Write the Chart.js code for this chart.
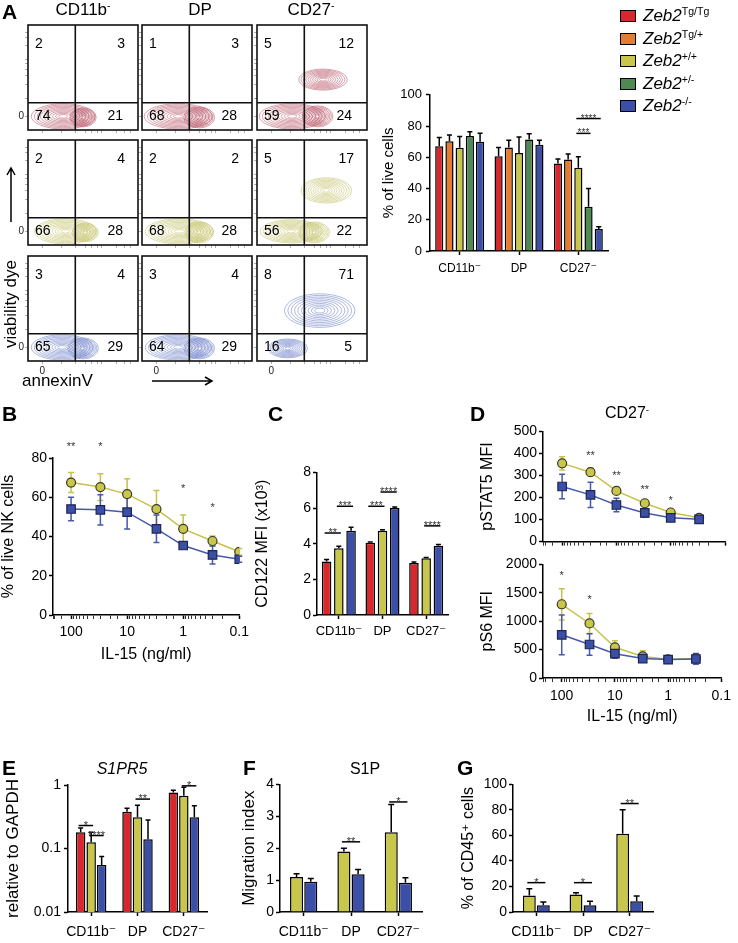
<!DOCTYPE html>
<html>
<head>
<meta charset="utf-8">
<script src="https://cdn.jsdelivr.net/npm/chart.js@4.4.1/dist/chart.umd.min.js"></script>
<style>
  body { margin: 0; width: 738px; height: 943px; position: relative; background: #fff; overflow: hidden;
         font-family: "Liberation Sans", Arial, sans-serif; color: #000; }
  canvas { position: absolute; }
  .t { position: absolute; white-space: nowrap; line-height: 1; }
  .letter { font-weight: bold; font-size: 21px; }
  .ctr { transform: translateX(-50%); }
  sup { font-size: 62%; vertical-align: 0.55em; line-height: 0; }
  .leg { position: absolute; left: 620px; font-size: 17px; font-style: italic; line-height: 1; }
  .leg i { position: absolute; left: 0; top: 3px; width: 14px; height: 10px; border: 1.5px solid #000; }
  .leg span { position: absolute; left: 23px; top: 0; white-space: nowrap; }
</style>
</head>
<body>

<script>
// ---------- data ----------
const subsets = ['CD11b⁻', 'DP', 'CD27⁻'];
const genotypes = ['Tg/Tg', 'Tg/+', '+/+', '+/-', '-/-'];
const genoColors = ['#d8282d', '#e57c30', '#c9c64c', '#4e8a52', '#3c4fa7'];

// A: flow quadrants [upper-left, upper-right, lower-left, lower-right]
const quadTgTg = [[2, 3, 74, 21], [1, 3, 68, 28], [5, 12, 59, 24]];
const quadWt = [[2, 4, 66, 28], [2, 2, 68, 28], [5, 17, 56, 22]];
const quadKo = [[3, 4, 65, 29], [3, 4, 64, 29], [8, 71, 16, 5]];
// contour populations: [annexinV, viability, spread x, spread y] (axis units 0-100)
const popTgTg = [
  [[32, 13, 29, 12], [50, 12, 12, 9]],
  [[33, 13, 31, 12], [52, 12, 14, 10]],
  [[32, 13, 30, 12], [55, 13, 14, 10], [60, 48, 22, 10]]
];
const popWt = [
  [[34, 13, 28, 12], [52, 12, 12, 9]],
  [[34, 13, 31, 12], [52, 12, 13, 10]],
  [[31, 13, 28, 11], [52, 12, 14, 10], [63, 52, 23, 12]]
];
const popKo = [
  [[31, 13, 28, 12], [50, 12, 14, 10]],
  [[33, 13, 30, 12], [52, 12, 14, 10]],
  [[28, 12, 18, 9], [57, 48, 32, 16]]
];

// A: % of live cells, per subset
const liveTgTg = [67, 60.6, 56];
const liveTgHet = [70.3, 66.3, 58.5];
const liveWt = [66.1, 62.7, 53.3];
const liveHet = [73.7, 71.4, 28.4];
const liveKo = [69.9, 68, 14.1];
const liveTgTgSd = [5.6, 5.7, 2.9];
const liveTgHetSd = [4, 4.6, 3.6];
const liveWtSd = [7.2, 10.3, 7.1];
const liveHetSd = [2.7, 3.6, 11.6];
const liveKoSd = [5.5, 2.9, 1.5];

// B: % of live NK cells vs IL-15
const il15B = [100, 30, 10, 3, 1, 0.3, 0.1];
const nkWt = [67.5, 65.2, 61.6, 54, 43.9, 37.7, 32.2];
const nkWtSd = [5.1, 6.8, 7.8, 9.4, 7.1, 2.5, 1.7];
const nkKo = [54, 53.6, 52.4, 43.9, 35.4, 30.6, 28.4];
const nkKoSd = [6, 7.7, 8.6, 7, 1.5, 4.6, 1.5];

// C: CD122 MFI (x10^3)
const cd122TgTg = [3.0, 4.05, 2.92];
const cd122Wt = [3.75, 4.72, 3.18];
const cd122Ko = [4.72, 6.0, 3.88];
const cd122TgTgSd = [0.12, 0.05, 0.05];
const cd122WtSd = [0.1, 0.06, 0.05];
const cd122KoSd = [0.2, 0.06, 0.07];

// D: CD27- signalling vs IL-15
const il15D = [100, 30, 10, 3, 1, 0.3];
const stat5Wt = [355, 315, 230, 174, 132, 108];
const stat5WtSd = [30, 18, 12, 10, 8, 5];
const stat5Ko = [250, 212, 166, 130, 108, 101];
const stat5KoSd = [56, 57, 31, 20, 8, 8];
const s6Wt = [1298, 960, 540, 380, 330, 345];
const s6WtSd = [275, 175, 115, 100, 30, 50];
const s6Ko = [760, 590, 428, 342, 324, 335];
const s6KoSd = [350, 190, 80, 50, 30, 95];

// E: S1PR5 relative to GAPDH
const s1pr5TgTg = [0.18, 0.38, 0.76];
const s1pr5Wt = [0.125, 0.31, 0.68];
const s1pr5Ko = [0.055, 0.14, 0.31];
const s1pr5TgTgSd = [0.03, 0.05, 0.07];
const s1pr5WtSd = [0.055, 0.17, 0.24];
const s1pr5KoSd = [0.02, 0.14, 0.16];

// F: migration index to S1P
const migWt = [1.1, 1.9, 2.5];
const migWtSd = [0.1, 0.1, 0.87];
const migKo = [0.95, 1.18, 0.92];
const migKoSd = [0.1, 0.15, 0.15];

// G: % of CD45+ cells
const cd45Wt = [13, 13.8, 61.4];
const cd45WtSd = [5.3, 1.2, 18.7];
const cd45Ko = [5.2, 5.2, 8.4];
const cd45KoSd = [2.6, 3.2, 4.2];

// ---------- helpers ----------
const FONT = '"Liberation Sans", Arial, "DejaVu Sans", sans-serif';
const RED = genoColors[0], YEL = genoColors[2], BLU = genoColors[4];
const YEL_LINE = '#c6c24a', BLU_LINE = '#4758ad';
const isPow10 = v => v > 0 && Math.abs(Math.log10(v) - Math.round(Math.log10(v))) < 1e-9;
const fmtPow = v => String(Number(v.toPrecision(1)));

function html(s) { document.body.insertAdjacentHTML('beforeend', s); }

function place(box) {
  const c = document.createElement('canvas');
  const left = box.l - box.yW, top = box.t - box.pt;
  const w = box.r + box.pr - left, h = box.b + box.xH - top;
  c.width = w; c.height = h;
  c.style.left = left + 'px'; c.style.top = top + 'px';
  c.style.width = w + 'px'; c.style.height = h + 'px';
  document.body.appendChild(c);
  return c;
}

function baseOptions(box) {
  return {
    animation: false, responsive: false, devicePixelRatio: 1,
    layout: { padding: { top: box.pt, right: box.pr, left: 0, bottom: 0 } },
    plugins: { legend: { display: false }, tooltip: { enabled: false } }
  };
}

function yAxis(box, o) {
  const ax = {
    type: o.type || 'linear', min: o.min, max: o.max,
    border: { color: '#000', width: 1.5 },
    grid: { drawOnChartArea: false, drawTicks: true, tickLength: 4, color: '#000', tickWidth: 1.5 },
    ticks: { font: { size: o.fs, family: FONT }, color: '#000', padding: o.pad, callback: v => String(v) },
    title: { display: !!o.title, text: o.title, color: '#000', font: { size: o.tfs, family: FONT }, padding: 0 },
    afterFit: s => { s.width = box.yW; }
  };
  if (o.step) ax.ticks.stepSize = o.step;
  if (o.type === 'logarithmic') {
    ax.afterBuildTicks = s => { s.ticks = s.ticks.filter(t => isPow10(t.value)); };
    ax.ticks.callback = v => fmtPow(v);
  }
  return ax;
}

function catAxis(box, fs, pad) {
  return {
    type: 'category', offset: true,
    border: { color: '#000', width: 1.5 },
    grid: { offset: false, drawOnChartArea: false, drawTicks: true, tickLength: 4, color: '#000', tickWidth: 1.5 },
    ticks: { font: { size: fs, family: FONT }, color: '#000', padding: pad, maxRotation: 0, autoSkip: false },
    afterFit: s => { s.height = box.xH; }
  };
}

function logXAxis(box, max, showLabels, pad) {
  return {
    type: 'logarithmic', reverse: true, min: 0.1, max: max,
    border: { color: '#000', width: 1.5 },
    grid: { drawOnChartArea: false, drawTicks: true, tickLength: 4, color: '#000',
            tickWidth: c => (c.tick && isPow10(c.tick.value)) ? 1.5 : 0.8 },
    ticks: { font: { size: 14, family: FONT }, color: '#000', padding: pad, autoSkip: false, maxRotation: 0,
             callback: v => (showLabels && isPow10(v)) ? fmtPow(v) : '' },
    title: { display: showLabels, text: 'IL-15 (ng/ml)', color: '#000', font: { size: 16, family: FONT }, padding: 0 },
    afterFit: s => { s.height = box.xH; }
  };
}

// error bars drawn through the y scale
function drawErrors(chart) {
  const ctx = chart.ctx, ys = chart.scales.y;
  chart.data.datasets.forEach((ds, i) => {
    if (!ds.err) return;
    const meta = chart.getDatasetMeta(i);
    ctx.save();
    ctx.strokeStyle = ds.errColor || '#000';
    ctx.lineWidth = 1.5;
    meta.data.forEach((el, j) => {
      const raw = ds.data[j];
      const v = typeof raw === 'object' ? raw.y : raw;
      const e = ds.err[j];
      const x = el.x, cap = ds.cap || 6;
      const yTop = ys.getPixelForValue(v + e);
      const yBot = ds.errBoth ? ys.getPixelForValue(v - e) : el.y;
      ctx.beginPath();
      ctx.moveTo(x, yBot); ctx.lineTo(x, yTop);
      ctx.moveTo(x - cap / 2, yTop); ctx.lineTo(x + cap / 2, yTop);
      if (ds.errBoth) { ctx.moveTo(x - cap / 2, yBot); ctx.lineTo(x + cap / 2, yBot); }
      ctx.stroke();
    });
    ctx.restore();
  });
}
const errorBars = {
  id: 'errorBars',
  beforeDatasetsDraw(chart) { if (chart.config.type === 'line') drawErrors(chart); },
  afterDatasetsDraw(chart) { if (chart.config.type === 'bar') drawErrors(chart); }
};

// significance marks: {a:[cat,ds], b:[cat,ds], y, t} or {x, y, t}
function sigMarks(marks, fs) {
  return {
    id: 'sig',
    afterDatasetsDraw(chart) {
      const ctx = chart.ctx, ys = chart.scales.y, xs = chart.scales.x;
      ctx.save();
      ctx.fillStyle = '#333'; ctx.strokeStyle = '#000'; ctx.lineWidth = 1.5;
      ctx.font = (fs || 11) + 'px ' + FONT;
      ctx.textAlign = 'center'; ctx.textBaseline = 'alphabetic';
      marks.forEach(m => {
        const y = ys.getPixelForValue(m.y);
        if (m.a) {
          const x1 = chart.getDatasetMeta(m.a[1]).data[m.a[0]].x - 2;
          const x2 = chart.getDatasetMeta(m.b[1]).data[m.b[0]].x + 2;
          ctx.beginPath(); ctx.moveTo(x1, y); ctx.lineTo(x2, y); ctx.stroke();
          ctx.fillText(m.t, (x1 + x2) / 2, y + 3);
        } else {
          ctx.fillText(m.t, xs.getPixelForValue(m.x), y + 0.55 * (fs || 11));
        }
      });
      ctx.restore();
    }
  };
}

function barSet(values, sd, color) {
  return { data: values, err: sd, backgroundColor: color, borderColor: '#000', borderWidth: 1.5, cap: 6 };
}

// ---------- panel A: flow plots ----------
const FLOW_COLS = [28, 142, 257];
const FLOW_ROWS = [20, 135, 251];
const flowColors = ['rgba(172,58,80,0.8)', 'rgba(188,186,86,0.85)', 'rgba(96,116,196,0.85)'];
const flowQuads = [quadTgTg, quadWt, quadKo];
const flowPops = [popTgTg, popWt, popKo];

function flowPlugin(quad, pops, color) {
  return {
    id: 'flow',
    afterDatasetsDraw(chart) {
      const { ctx, chartArea: a, scales: { x, y } } = chart;
      ctx.save();
      ctx.beginPath(); ctx.rect(a.left, a.top, a.width, a.height); ctx.clip();
      ctx.strokeStyle = color; ctx.lineWidth = 0.6;
      pops.forEach(p => {
        const cx = x.getPixelForValue(p[0]), cy = y.getPixelForValue(p[1]);
        const rx = Math.abs(x.getPixelForValue(p[0] + p[2]) - cx);
        const ry = Math.abs(y.getPixelForValue(p[1] + p[3]) - cy);
        for (let k = 0; k < 10; k++) {
          const f = 1 - k / 10.5;
          ctx.beginPath(); ctx.ellipse(cx, cy, rx * f, ry * f, 0, 0, 2 * Math.PI); ctx.stroke();
        }
      });
      ctx.restore();
      ctx.save();
      ctx.strokeStyle = '#111'; ctx.lineWidth = 1.6;
      ctx.strokeRect(a.left, a.top, a.width, a.height);
      const gx = x.getPixelForValue(43), gy = y.getPixelForValue(26);
      ctx.beginPath();
      ctx.moveTo(gx, a.top); ctx.lineTo(gx, a.bottom);
      ctx.moveTo(a.left, gy); ctx.lineTo(a.right, gy);
      ctx.stroke();
      ctx.fillStyle = '#000';
      ctx.font = '14px ' + FONT;
      ctx.textBaseline = 'middle';
      ctx.textAlign = 'left';
      ctx.fillText(String(quad[0]), a.left + 7, a.top + 19);
      ctx.fillText(String(quad[2]), a.left + 7, a.bottom - 14);
      ctx.textAlign = 'right';
      ctx.fillText(String(quad[1]), a.right - 13, a.top + 19);
      ctx.fillText(String(quad[3]), a.right - 15, a.bottom - 14);
      ctx.restore();
    }
  };
}

const flowTickPos = [13, 30, 43, 52, 58, 63, 67, 80, 88, 93];
for (let r = 0; r < 3; r++) {
  for (let c = 0; c < 3; c++) {
    const box = { l: FLOW_COLS[c], t: FLOW_ROWS[r], r: FLOW_COLS[c] + 110, b: FLOW_ROWS[r] + 110, yW: 16, xH: 16, pt: 2, pr: 2 };
    const opts = baseOptions(box);
    const tickAxis = (showZero, isX) => ({
      type: 'linear', min: 0, max: 100,
      border: { display: false },
      grid: { drawOnChartArea: false, drawTicks: true, tickLength: 3, color: '#9a9a9a', tickWidth: 0.8 },
      afterBuildTicks: s => { s.ticks = flowTickPos.map(v => ({ value: v })); },
      ticks: { autoSkip: false, maxRotation: 0, padding: 1, color: '#222', font: { size: 10, family: FONT },
               callback: v => (showZero && v === 13) ? '0' : '' },
      afterFit: s => { if (isX) s.height = box.xH; else s.width = box.yW; }
    });
    opts.scales = { x: tickAxis(r === 2, true), y: tickAxis(c === 0, false) };
    new Chart(place(box), {
      type: 'scatter',
      data: { datasets: [{ data: flowPops[r][c].map(p => ({ x: p[0], y: p[1] })), pointRadius: 0 }] },
      options: opts,
      plugins: [flowPlugin(flowQuads[r][c], flowPops[r][c], flowColors[r])]
    });
  }
}

// ---------- panel A: % of live cells ----------
(function () {
  const box = { l: 430, t: 93, r: 608, b: 251, yW: 50, xH: 30, pt: 10, pr: 10 };
  const opts = baseOptions(box);
  opts.scales = {
    x: catAxis(box, 12, 6),
    y: yAxis(box, { min: 0, max: 100, step: 20, fs: 13, pad: 4, title: '% of live cells', tfs: 15 })
  };
  const vals = [liveTgTg, liveTgHet, liveWt, liveHet, liveKo];
  const sds = [liveTgTgSd, liveTgHetSd, liveWtSd, liveHetSd, liveKoSd];
  new Chart(place(box), {
    type: 'bar',
    data: {
      labels: subsets,
      datasets: vals.map((v, i) => Object.assign(barSet(v, sds[i], genoColors[i]),
        { label: genotypes[i], barPercentage: 0.8, categoryPercentage: 0.86, cap: 5 }))
    },
    options: opts,
    plugins: [errorBars, sigMarks([
      { a: [2, 2], b: [2, 3], y: 75.3, t: '***' },
      { a: [2, 2], b: [2, 4], y: 84.8, t: '****' }
    ], 10)]
  });
})();

// ---------- panel B ----------
(function () {
  const box = { l: 53, t: 458, r: 240, b: 615, yW: 54, xH: 49, pt: 22, pr: 14 };
  const opts = baseOptions(box);
  opts.scales = {
    x: logXAxis(box, 210, true, 5),
    y: yAxis(box, { min: 0, max: 80, step: 20, fs: 14, pad: 2, title: '% of live NK cells', tfs: 16 })
  };
  new Chart(place(box), {
    type: 'line',
    data: {
      datasets: [
        { data: il15B.map((x, i) => ({ x, y: nkWt[i] })), err: nkWtSd, errBoth: true, errColor: YEL_LINE,
          borderColor: YEL_LINE, borderWidth: 1.5, pointStyle: 'circle', pointRadius: 4.5,
          pointBackgroundColor: YEL, pointBorderColor: '#3a3a2a', pointBorderWidth: 1.2, order: 1 },
        { data: il15B.map((x, i) => ({ x, y: nkKo[i] })), err: nkKoSd, errBoth: true, errColor: BLU_LINE,
          borderColor: BLU_LINE, borderWidth: 1.5, pointStyle: 'rect', pointRadius: 6,
          pointBackgroundColor: BLU, pointBorderColor: '#1d2450', pointBorderWidth: 1.2, order: 0 }
      ]
    },
    options: opts,
    plugins: [errorBars, sigMarks([
      { x: 100, y: 87, t: '**' }, { x: 30, y: 87, t: '*' }, { x: 1, y: 66, t: '*' }, { x: 0.3, y: 56, t: '*' }
    ], 11)]
  });
})();

// ---------- panel C ----------
(function () {
  const box = { l: 317, t: 472, r: 448, b: 615, yW: 64, xH: 30, pt: 10, pr: 8 };
  const opts = baseOptions(box);
  opts.scales = {
    x: catAxis(box, 13, 5),
    y: yAxis(box, { min: 0, max: 8, step: 2, fs: 14, pad: 2, title: 'CD122 MFI (x10³)', tfs: 16 })
  };
  const vals = [cd122TgTg, cd122Wt, cd122Ko], sds = [cd122TgTgSd, cd122WtSd, cd122KoSd];
  new Chart(place(box), {
    type: 'bar',
    data: {
      labels: subsets,
      datasets: vals.map((v, i) => Object.assign(barSet(v, sds[i], [RED, YEL, BLU][i]),
        { barPercentage: 0.78, categoryPercentage: 0.84, cap: 5 }))
    },
    options: opts,
    plugins: [errorBars, sigMarks([
      { a: [0, 0], b: [0, 1], y: 4.6, t: '**' },
      { a: [0, 1], b: [0, 2], y: 6.1, t: '***' },
      { a: [1, 0], b: [1, 1], y: 6.1, t: '***' },
      { a: [1, 1], b: [1, 2], y: 6.9, t: '****' },
      { a: [2, 1], b: [2, 2], y: 5.0, t: '****' }
    ], 11)]
  });
})();

// ---------- panel D ----------
function signalChart(box, wt, wtSd, ko, koSd, yo, marks, showX) {
  const opts = baseOptions(box);
  opts.scales = { x: logXAxis(box, 225, showX, 6), y: yAxis(box, yo) };
  opts.scales.x.ticks.font.size = 14;
  new Chart(place(box), {
    type: 'line',
    data: {
      datasets: [
        { data: il15D.map((x, i) => ({ x, y: wt[i] })), err: wtSd, errBoth: true, errColor: YEL_LINE,
          borderColor: YEL_LINE, borderWidth: 1.5, pointStyle: 'circle', pointRadius: 4.5,
          pointBackgroundColor: YEL, pointBorderColor: '#3a3a2a', pointBorderWidth: 1.2, order: 1 },
        { data: il15D.map((x, i) => ({ x, y: ko[i] })), err: koSd, errBoth: true, errColor: BLU_LINE,
          borderColor: BLU_LINE, borderWidth: 1.5, pointStyle: 'rect', pointRadius: 6,
          pointBackgroundColor: BLU, pointBorderColor: '#1d2450', pointBorderWidth: 1.2, order: 0 }
      ]
    },
    options: opts,
    plugins: [errorBars, sigMarks(marks, 11)]
  });
}
signalChart({ l: 543, t: 431, r: 725, b: 546, yW: 65, xH: 6, pt: 10, pr: 12 },
  stat5Wt, stat5WtSd, stat5Ko, stat5KoSd,
  { min: 0, max: 500, step: 100, fs: 14, pad: 2, title: 'pSTAT5 MFI', tfs: 16 },
  [{ x: 30, y: 404, t: '**' }, { x: 10, y: 313, t: '**' }, { x: 3, y: 248, t: '**' }, { x: 1, y: 196, t: '*' }], false);
signalChart({ l: 543, t: 564, r: 725, b: 678, yW: 65, xH: 48, pt: 10, pr: 12 },
  s6Wt, s6WtSd, s6Ko, s6KoSd,
  { min: 0, max: 2000, step: 500, fs: 14, pad: 2, title: 'pS6 MFI', tfs: 16 },
  [{ x: 100, y: 1842, t: '*' }, { x: 30, y: 1421, t: '*' }], true);

// ---------- panel E ----------
(function () {
  const box = { l: 68, t: 785, r: 207, b: 912, yW: 65, xH: 31, pt: 12, pr: 8 };
  const opts = baseOptions(box);
  opts.scales = {
    x: catAxis(box, 14, 8),
    y: yAxis(box, { type: 'logarithmic', min: 0.01, max: 1, fs: 14, pad: 3, title: 'relative to GAPDH', tfs: 17 })
  };
  const vals = [s1pr5TgTg, s1pr5Wt, s1pr5Ko], sds = [s1pr5TgTgSd, s1pr5WtSd, s1pr5KoSd];
  new Chart(place(box), {
    type: 'bar',
    data: {
      labels: subsets,
      datasets: vals.map((v, i) => Object.assign(barSet(v, sds[i], [RED, YEL, BLU][i]),
        { barPercentage: 0.9, categoryPercentage: 0.68, cap: 5 }))
    },
    options: opts,
    plugins: [errorBars, sigMarks([
      { a: [0, 0], b: [0, 1], y: 0.23, t: '*' },
      { a: [0, 1], b: [0, 2], y: 0.16, t: '****' },
      { a: [1, 1], b: [1, 2], y: 0.6, t: '**' },
      { a: [2, 1], b: [2, 2], y: 0.97, t: '*' }
    ], 11)]
  });
})();

// ---------- panel F ----------
(function () {
  const box = { l: 280, t: 784, r: 422, b: 912, yW: 41, xH: 31, pt: 10, pr: 8 };
  const opts = baseOptions(box);
  opts.scales = {
    x: catAxis(box, 14, 8),
    y: yAxis(box, { min: 0, max: 4, step: 1, fs: 14, pad: 2, title: 'Migration index', tfs: 17 })
  };
  new Chart(place(box), {
    type: 'bar',
    data: {
      labels: subsets,
      datasets: [
        Object.assign(barSet(migWt, migWtSd, YEL), { barPercentage: 0.92, categoryPercentage: 0.6, cap: 6 }),
        Object.assign(barSet(migKo, migKoSd, BLU), { barPercentage: 0.92, categoryPercentage: 0.6, cap: 6 })
      ]
    },
    options: opts,
    plugins: [errorBars, sigMarks([
      { a: [1, 0], b: [1, 1], y: 2.2, t: '**' },
      { a: [2, 0], b: [2, 1], y: 3.45, t: '*' }
    ], 11)]
  });
})();

// ---------- panel G ----------
(function () {
  const box = { l: 513, t: 784, r: 653, b: 912, yW: 54, xH: 31, pt: 10, pr: 8 };
  const opts = baseOptions(box);
  opts.scales = {
    x: catAxis(box, 14, 8),
    y: yAxis(box, { min: 0, max: 100, step: 20, fs: 14, pad: 2, title: '% of CD45⁺ cells', tfs: 16 })
  };
  new Chart(place(box), {
    type: 'bar',
    data: {
      labels: subsets,
      datasets: [
        Object.assign(barSet(cd45Wt, cd45WtSd, YEL), { barPercentage: 0.92, categoryPercentage: 0.6, cap: 6 }),
        Object.assign(barSet(cd45Ko, cd45KoSd, BLU), { barPercentage: 0.92, categoryPercentage: 0.6, cap: 6 })
      ]
    },
    options: opts,
    plugins: [errorBars, sigMarks([
      { a: [0, 0], b: [0, 1], y: 23, t: '*' },
      { a: [1, 0], b: [1, 1], y: 23, t: '*' },
      { a: [2, 0], b: [2, 1], y: 85, t: '**' }
    ], 11)]
  });
})();

// ---------- text labels ----------
html('<div class="t letter" style="left:2px;top:1px">A</div>');
html('<div class="t ctr" style="left:83px;top:1px;font-size:17px">CD11b<sup>-</sup></div>');
html('<div class="t ctr" style="left:200px;top:1px;font-size:17px">DP</div>');
html('<div class="t ctr" style="left:311px;top:1px;font-size:17px">CD27<sup>-</sup></div>');
html('<div class="t" style="left:10px;top:304px;font-size:17px;transform:translate(-50%,-50%) rotate(-90deg)">viability dye</div>');
html('<div class="t" style="left:22px;top:372px;font-size:17px">annexinV</div>');
html('<svg style="position:absolute;left:0;top:0" width="240" height="400">' +
  '<path d="M11 222 L11 168 M7 175 L11 168 L15 175" stroke="#000" stroke-width="1.5" fill="none"/>' +
  '<path d="M152 381 L212 381 M205 377 L212 381 L205 385" stroke="#000" stroke-width="1.5" fill="none"/></svg>');
genotypes.forEach((g, i) => {
  html('<div class="leg" style="top:' + (7 + i * 22.5) + 'px"><i style="background:' + genoColors[i] + '"></i>' +
       '<span>Zeb2<sup style="font-style:normal">' + g + '</sup></span></div>');
});
html('<div class="t letter" style="left:2px;top:403px">B</div>');
html('<div class="t letter" style="left:268px;top:403px">C</div>');
html('<div class="t letter" style="left:470px;top:403px">D</div>');
html('<div class="t ctr" style="left:627px;top:405px;font-size:16px">CD27<sup>-</sup></div>');
html('<div class="t letter" style="left:2px;top:757px">E</div>');
html('<div class="t letter" style="left:243px;top:757px">F</div>');
html('<div class="t letter" style="left:457px;top:757px">G</div>');
html('<div class="t ctr" style="left:122px;top:761px;font-size:16px;font-style:italic">S1PR5</div>');
html('<div class="t ctr" style="left:365px;top:761px;font-size:16px">S1P</div>');
</script>
</body>
</html>
